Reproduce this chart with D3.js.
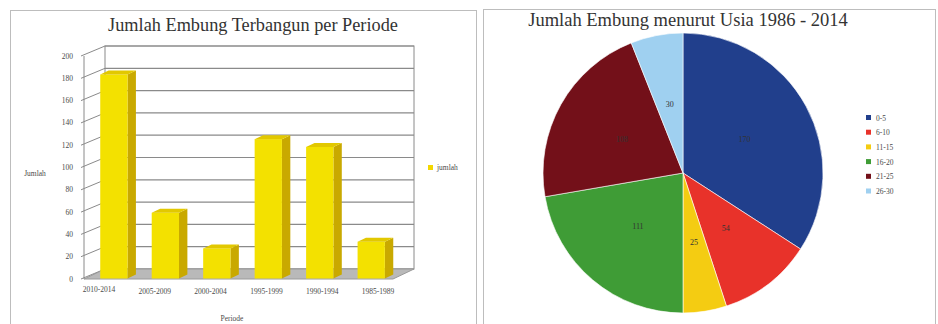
<!DOCTYPE html>
<html><head><meta charset="utf-8">
<script src="https://cdn.jsdelivr.net/npm/d3@7"></script>
<style>body{margin:0;background:#fff}svg{display:block}text{font-family:"Liberation Serif","DejaVu Serif",serif}</style>
</head><body>
<svg id="c" width="938" height="324"></svg>
<script>
// ---- data ----
const periods = ["2010-2014","2005-2009","2000-2004","1995-1999","1990-1994","1985-1989"];
const jumlah = [183, 59, 27, 125, 118, 33];
const yTicks = [0,20,40,60,80,100,120,140,160,180,200];
const ageGroups = ["0-5","6-10","11-15","16-20","21-25","26-30"];
const ageCounts = [170, 54, 25, 111, 108, 30];
const ageColors = ["#213f8c","#e8322a","#f4cc12","#3f9c36","#731019","#9fd0f0"];

const svg = d3.select("#c");
const TXT = "#4a4a4a";

// panel frames
svg.append("rect").attr("x",10.5).attr("y",10.5).attr("width",466).attr("height",320).attr("fill","#fff").attr("stroke","#bdbdbd");
svg.append("rect").attr("x",483.5).attr("y",9.5).attr("width",452).attr("height",320).attr("fill","#fff").attr("stroke","#bdbdbd");

// ---- bar chart (3D look) ----
const DX = 21, DY = -10;
const y = d3.scaleLinear().domain([0,200]).range([279,56]);
const x = d3.scaleBand().domain(periods).range([75,408]).padding(0.47);
const xl = d3.scalePoint().domain(periods).range([99,378]);
const front0 = 84, front1 = 393;

svg.append("text").attr("x",253).attr("y",31).attr("text-anchor","middle")
  .attr("font-size",18.3).attr("fill","#333").text("Jumlah Embung Terbangun per Periode");

const g = svg.append("g");
// back wall
g.append("rect").attr("x",front0+DX).attr("y",y(200)+DY).attr("width",front1-front0)
  .attr("height",y(0)-y(200)).attr("fill","#fff").attr("stroke","#8a8a8a");
// gridlines + side wall lines
yTicks.forEach(v=>{
  g.append("line").attr("x1",front0+DX).attr("x2",front1+DX).attr("y1",y(v)+DY).attr("y2",y(v)+DY)
    .attr("stroke","#8a8a8a").attr("stroke-width",1.2);
  g.append("line").attr("x1",front0-3).attr("x2",front0+DX).attr("y1",y(v)).attr("y2",y(v)+DY)
    .attr("stroke","#8a8a8a").attr("stroke-width",1);
  g.append("text").attr("x",73).attr("y",y(v)+2.5).attr("text-anchor","end")
    .attr("font-size",7.5).attr("fill",TXT).text(v);
});
// left axis line
g.append("line").attr("x1",front0).attr("x2",front0).attr("y1",y(200)).attr("y2",y(0)).attr("stroke","#8a8a8a");
// floor
g.append("polygon").attr("points",[[front0,y(0)],[front1,y(0)],[front1+DX,y(0)+DY],[front0+DX,y(0)+DY]].map(p=>p.join(",")).join(" "))
  .attr("fill","#b9b9b9").attr("stroke","#9a9a9a");

// bars
const z0 = 0.05, z1 = 0.45;
periods.forEach((p,i)=>{
  const v = jumlah[i];
  const xf = x(p) + z0*DX, w = x.bandwidth();
  const yb = y(0) + z0*DY, yt = y(v) + z0*DY;
  const ddx = (z1-z0)*DX, ddy = (z1-z0)*DY;
  g.append("polygon").attr("points",[[xf+w,yb],[xf+w+ddx,yb+ddy],[xf+w+ddx,yt+ddy],[xf+w,yt]].map(q=>q.join(",")).join(" "))
    .attr("fill","#c9a900");
  g.append("rect").attr("x",xf).attr("y",yt).attr("width",w).attr("height",yb-yt).attr("fill","#f3e100");
  g.append("polygon").attr("points",[[xf,yt],[xf+w,yt],[xf+w+ddx,yt+ddy],[xf+ddx,yt+ddy]].map(q=>q.join(",")).join(" "))
    .attr("fill","#e2c800");
  g.append("text").attr("x",xl(p)).attr("y",i===0?292:294).attr("text-anchor","middle")
    .attr("font-size",7.5).attr("fill",TXT).text(p);
});

g.append("text").attr("x",35).attr("y",176).attr("text-anchor","middle").attr("font-size",7.5).attr("fill",TXT).text("Jumlah");
g.append("text").attr("x",232).attr("y",321).attr("text-anchor","middle").attr("font-size",7.5).attr("fill",TXT).text("Periode");
g.append("rect").attr("x",428).attr("y",165).attr("width",5).attr("height",5).attr("fill","#f3d700");
g.append("text").attr("x",437).attr("y",170).attr("font-size",7.5).attr("fill",TXT).text("jumlah");

// ---- pie chart ----
svg.append("text").attr("x",688).attr("y",26).attr("text-anchor","middle")
  .attr("font-size",18.5).attr("fill","#333").text("Jumlah Embung menurut Usia 1986 - 2014");

const cx = 683, cy = 173, R = 140;
const pie = d3.pie().sort(null).value(d=>d)(ageCounts);
const arc = d3.arc().innerRadius(0).outerRadius(R);
const lab = d3.arc().innerRadius(R*0.5).outerRadius(R*0.5);
const pg = svg.append("g").attr("transform",`translate(${cx},${cy})`);
pg.selectAll("path").data(pie).join("path").attr("d",arc).attr("fill",(d,i)=>ageColors[i])
  .attr("stroke","#fff").attr("stroke-width",0.6);
pg.selectAll("text").data(pie).join("text")
  .attr("transform",d=>`translate(${lab.centroid(d)})`).attr("text-anchor","middle").attr("dy","0.35em")
  .attr("font-size",8).attr("fill","#333").text(d=>d.data);

const lg = svg.append("g");
ageGroups.forEach((a,i)=>{
  const yy = 118 + i*14.7;
  lg.append("rect").attr("x",866).attr("y",yy-3).attr("width",5).attr("height",5).attr("fill",ageColors[i]);
  lg.append("text").attr("x",876).attr("y",yy+2.5).attr("font-size",7.5).attr("fill",TXT).text(a);
});
</script>
</body></html>
